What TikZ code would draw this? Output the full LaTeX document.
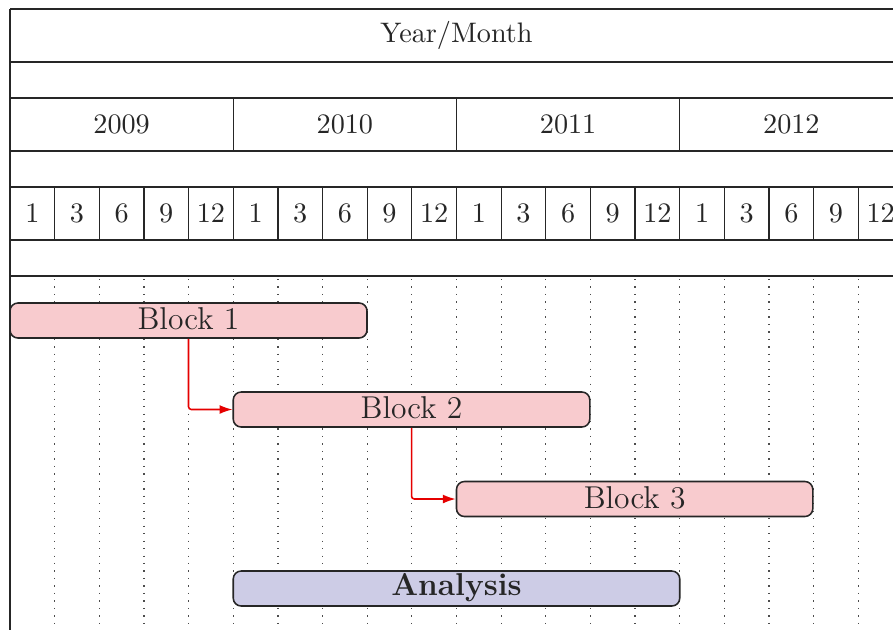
\documentclass[tikz,border=0pt]{standalone}
\usetikzlibrary{arrows.meta,fit}
\definecolor{barpink}{RGB}{248,203,206}
\definecolor{barblue}{RGB}{205,204,230}
\begin{document}
\begin{tikzpicture}[x=0.3546pt,y=-0.3546pt,
  grid/.style={draw=black!85, line width=0.45pt},
  vgrid/.style={black!70, line width=0.45pt, dash pattern=on 0.45pt off 2.2pt},
  hdr/.style={inner sep=0pt, font=\normalsize, text=black!85},
  bar/.style={draw=black!85, line width=0.55pt, rounded corners=2.8pt, inner sep=0pt},
  barlabel/.style={inner sep=0pt, font=\fontsize{11.2}{13.5}\selectfont, text=black!85},
  link/.style={draw=red!90!black, line width=0.55pt, rounded corners=1pt, -{Latex[length=4.6pt,width=3.2pt]}}]
\useasboundingbox (0,0) rectangle (893,629);
\begin{scope}
\clip (0,0) rectangle (893,629);
% dotted vertical grid
\foreach \k in {1,...,20} {
  \draw[vgrid] ({10+\k*44.65},279) -- ({10+\k*44.65},640);
}
% header frame
\foreach \yy in {9,62,98,151,187,240,276} {
  \draw[grid] (10,\yy) -- (903,\yy);
}
\draw[grid] (10,9) -- (10,640);
\draw[grid] (903,9) -- (903,276);
% title
\node[hdr] (title) at (456.5,35.5) {Year/Month};
% years
\foreach \yr [count=\i from 0] in {2009,2010,2011,2012} {
  \node[hdr] (y\i) at ({10+(\i+0.5)*223.25},124.5) {\yr};
  \draw[grid] ({10+(\i+1)*223.25},98) -- ({10+(\i+1)*223.25},151);
}
% months
\foreach \yi in {0,...,3} {
  \foreach \m [count=\j from 0] in {1,3,6,9,12} {
    \pgfmathtruncatemacro{\idx}{\yi*5+\j}
    \node[hdr] (m\idx) at ({10+(\idx+0.5)*44.65},213.5) {\m};
    \draw[grid] ({10+(\idx+1)*44.65},187) -- ({10+(\idx+1)*44.65},240);
  }
}
% bars
\node[bar, fill=barpink, fit={(10,303) (367,338)}] (b1) {};
\node[bar, fill=barpink, fit={(233.25,392) (589.8,427)}] (b2) {};
\node[bar, fill=barpink, fit={(456.5,481.5) (812.8,516.5)}] (b3) {};
\node[bar, fill=barblue, fit={(233.25,571) (679.75,606)}] (an) {};
\node[barlabel] (l1) at ([yshift=0.5pt]b1.center) {Block 1};
\node[barlabel] (l2) at ([yshift=0.5pt]b2.center) {Block 2};
\node[barlabel] (l3) at ([yshift=0.5pt]b3.center) {Block 3};
\node[barlabel, font=\fontsize{11.2}{13.5}\selectfont\bfseries] (la) at ([yshift=0.5pt]an.center) {Analysis};
% links
\draw[link] (b1.south) |- (b2.west);
\draw[link] (b2.south) |- (b3.west);
\end{scope}
\end{tikzpicture}
\end{document}
